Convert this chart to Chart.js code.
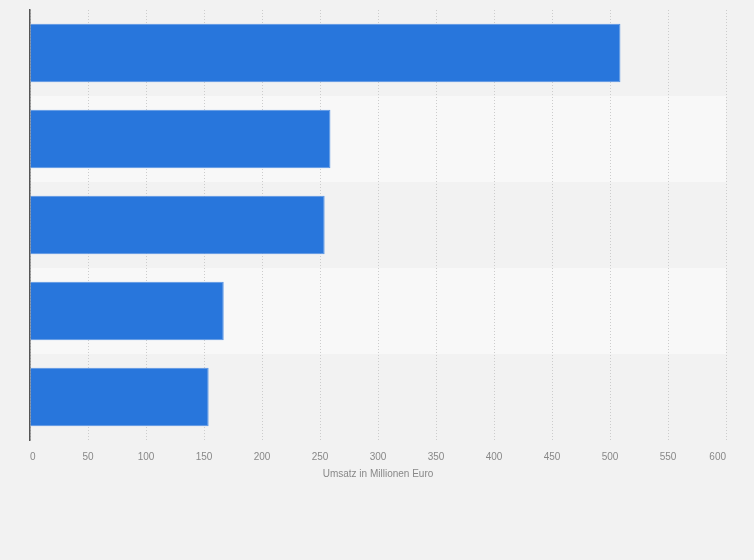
<!DOCTYPE html>
<html>
<head>
<meta charset="utf-8">
<script src="https://cdn.jsdelivr.net/npm/chart.js@4"></script>
<style>
  html, body { margin: 0; padding: 0; background: #f2f2f2; }
  #wrap { width: 754px; height: 560px; }
</style>
</head>
<body>
<div id="wrap"><canvas id="myChart" width="754" height="560"></canvas></div>
<script>
// category names are not shown in the picture
let categories = ["Rang 1", "Rang 2", "Rang 3", "Rang 4", "Rang 5"]
let umsatz = [509, 259, 254, 167, 154]
let xTicks = [0, 50, 100, 150, 200, 250, 300, 350, 400, 450, 500, 550, 600]
let axisTitle = "Umsatz in Millionen Euro"

// light stripes behind every second row
const rowBands = {
  id: 'rowBands',
  beforeDraw(chart) {
    let ctx = chart.ctx
    let area = chart.chartArea
    let y = chart.scales.y
    let step = (y.bottom - y.top) / categories.length
    ctx.save()
    ctx.fillStyle = '#f8f8f8'
    categories.forEach((c, i) => {
      if (i % 2 === 1) {
        let mid = y.getPixelForValue(i)
        ctx.fillRect(area.left, mid - step / 2, area.right - area.left, step)
      }
    })
    ctx.restore()
  }
}

Chart.defaults.font.family = "'Liberation Sans', Arial, sans-serif"

let ctx = document.getElementById("myChart").getContext("2d")

let myChart = new Chart(ctx, {
  type: 'bar',
  data: {
    labels: categories,
    datasets: [{
      data: umsatz,
      backgroundColor: '#2876dc',
      borderColor: '#5593e4',
      borderWidth: 1,
      barPercentage: 0.85,
      categoryPercentage: 0.8
    }]
  },
  options: {
    indexAxis: 'y',
    responsive: false,
    animation: false,
    layout: { padding: { left: 30, right: 28, top: 10, bottom: 75 } },
    plugins: {
      legend: { display: false },
      tooltip: { enabled: false }
    },
    scales: {
      x: {
        min: 0,
        max: 600,
        afterBuildTicks: scale => { scale.ticks = xTicks.map(v => ({ value: v })) },
        afterFit: scale => { scale.height = 45 },
        grid: { color: '#cccccc', drawTicks: false },
        border: { display: false, dash: [1, 2] },
        ticks: { color: '#888', font: { size: 10 }, padding: 11, maxRotation: 0, align: 'inner' },
        title: {
          display: true,
          text: axisTitle,
          color: '#888',
          font: { size: 10 },
          padding: { top: 4, bottom: 5 }
        }
      },
      y: {
        afterFit: scale => { scale.width = 0 },
        grid: { display: false, drawTicks: false },
        border: { display: true, color: '#555', width: 1.5 },
        ticks: { display: false }
      }
    }
  },
  plugins: [rowBands]
})
</script>
</body>
</html>
